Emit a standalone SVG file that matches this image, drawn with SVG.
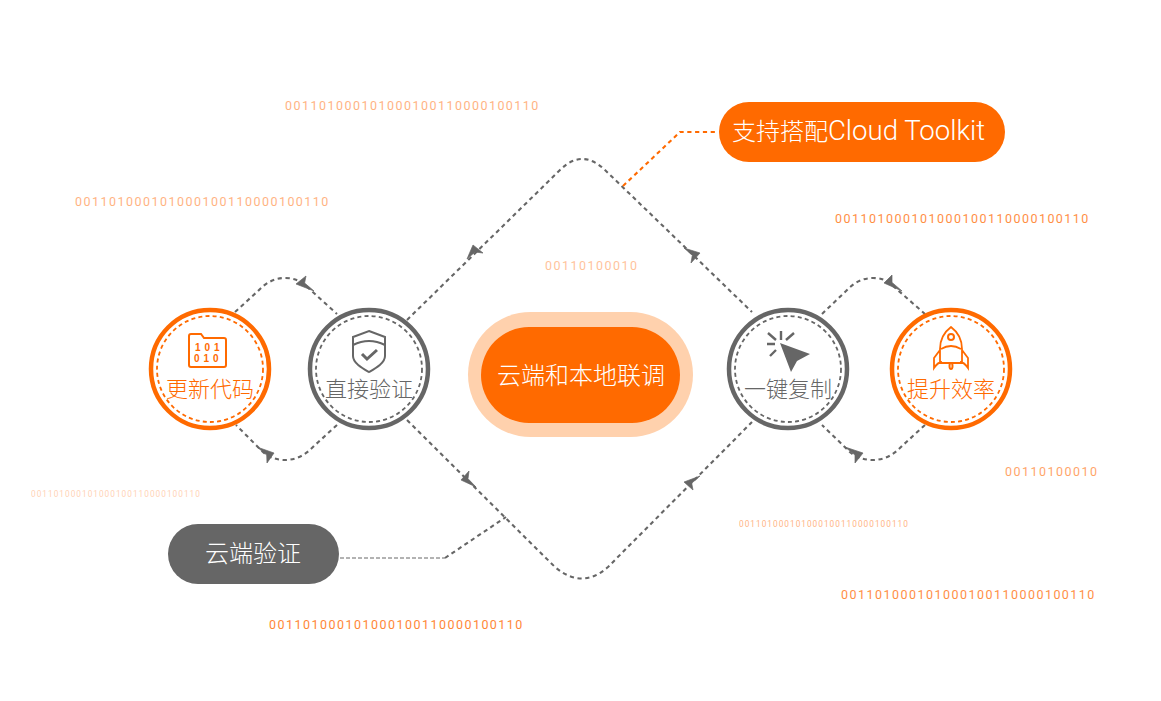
<svg xmlns="http://www.w3.org/2000/svg" width="1161" height="701" viewBox="0 0 1161 701">
<style>
text{font-family:"Liberation Sans","Noto Sans CJK SC",sans-serif;font-weight:300}
.bin{font-family:Roboto,"Liberation Sans",sans-serif;fill:#ff6a00;letter-spacing:1.47px;font-size:12.5px;font-weight:400}
.s{font-size:8.3px;letter-spacing:1px}
.c{fill:#fff;stroke-width:4.5}
.d{fill:none;stroke-width:1.8;stroke-dasharray:4 3.2}
.o{stroke:#ff6a00}.g{stroke:#666}
.lo{fill:#ff6a00;font-size:22px;text-anchor:middle}
.lg{fill:#666;font-size:22px;text-anchor:middle}
.w{fill:#fff;text-anchor:middle}
.con{fill:none;stroke:#666;stroke-width:2.1;stroke-dasharray:4.2 3.6}
.ic{fill:none;stroke-width:2}
.ah{fill:#666;stroke:#666;stroke-width:.7;stroke-linejoin:round}
.lat{font-family:Roboto,"Liberation Sans",sans-serif;font-weight:300}
</style>
<g id="binary">
<text class="bin" x="285" y="110" opacity=".5">001101000101000100110000100110</text>
<text class="bin" x="75" y="206" opacity=".5">001101000101000100110000100110</text>
<text class="bin" x="835" y="223" opacity=".75">001101000101000100110000100110</text>
<text class="bin" x="545" y="270" opacity=".4">00110100010</text>
<text class="bin" x="1005" y="476" opacity=".6">00110100010</text>
<text class="bin s" x="31" y="497" opacity=".3">001101000101000100110000100110</text>
<text class="bin s" x="739" y="527" opacity=".5">001101000101000100110000100110</text>
<text class="bin" x="841" y="599" opacity=".75">001101000101000100110000100110</text>
<text class="bin" x="269" y="629" opacity=".8">001101000101000100110000100110</text>
</g>
<g id="connectors">
<path class="con" d="M235 312L258 291Q270 278 285 278Q297 278 305 285L337 314"/>
<path class="con" d="M337 425L314 446Q301 460 285 460Q273 460 264 453L236 425"/>
<path class="con" d="M822 314L846 291Q858 278 873 278Q885 278 892 285L925 314"/>
<path class="con" d="M925 425L902 446Q889 460 873 460Q860 460 851 453L822 425"/>
<path class="con" d="M407 320L560 170Q582 148 605 170L752 312"/>
<path class="con" d="M407 420L555 567Q582 590 608 567L752 422"/>
<path d="M623 186L680 132H718" fill="none" stroke="#ff6a00" stroke-width="2.1" stroke-dasharray="4.2 3.6"/>
<path d="M340 558H445" fill="none" stroke="#666" stroke-width="1" stroke-dasharray="4 2"/>
<path class="con" d="M445 558L506 517"/>
<path class="ah" d="M314 291L296 284L306 276L304.6 283Z"/>
<path class="ah" d="M257 447L274 453L267 463L266.7 455Z"/>
<path class="ah" d="M902 291L884 283L892 275L892 282.4Z"/>
<path class="ah" d="M845 447L863 453L855 463L855 455Z"/>
<path class="ah" d="M467 259L473 245L483 253L475 252Z"/>
<path class="ah" d="M684 248L700 253L691 263L692.3 255.2Z"/>
<path class="ah" d="M476 487L461 480L469 471L468 478.7Z"/>
<path class="ah" d="M700 476L684 482L693 490L691.7 483.2Z"/>
</g>
<g id="n1"><circle class="c o" cx="210" cy="369" r="59"/><circle class="d o" cx="210" cy="369" r="53"/>
<path class="ic o" d="M191 334h10l3 4h20a2 2 0 0 1 2 2v25a2 2 0 0 1-2 2h-33a2 2 0 0 1-2-2v-29a2 2 0 0 1 2-2z"/>
<text x="195" y="351" font-size="10" fill="#ff6a00" style="font-weight:700" letter-spacing="4">101</text>
<text x="194" y="362" font-size="10" fill="#ff6a00" style="font-weight:700" letter-spacing="4">010</text>
<text class="lo" x="210" y="397">更新代码</text></g>
<g id="n2"><circle class="c g" cx="369" cy="369" r="59"/><circle class="d g" cx="369" cy="369" r="53"/>
<path class="ic g" stroke-width="2.6" d="M369 331l16 6v19c0 7-9 12-16 16c-7-4-16-9-16-16v-19z"/><path class="ic g" d="M353 345q16-8 32 0"/><path class="ic g" style="stroke-width:3" d="M362 354l5 5l10-9"/>
<text class="lg" x="369" y="397">直接验证</text></g>
<g id="n3"><circle class="c g" cx="788" cy="369" r="59"/><circle class="d g" cx="788" cy="369" r="53"/>
<path d="M780 343L810 354L797 361L791 372Z" fill="#666"/><path class="ic g" style="stroke-width:2.4" d="M768 333l8 7M781 331v9M794 333l-8 7M767 344h8M770 356l6-6"/>
<text class="lg" x="788" y="397">一键复制</text></g>
<g id="n4"><circle class="c o" cx="951" cy="369" r="59"/><circle class="d o" cx="951" cy="369" r="53"/>
<path class="ic o" style="stroke-width:1.8" d="M951 327c-8 6-11 14-11 22v14h22v-14c0-8-3-16-11-22zM941 349q10-6 20 0M940 350l-6 8v10q4-6 8-6M962 350l6 8v10q-4-6-8-6"/><circle class="ic o" cx="951" cy="337" r="3"/><ellipse class="ic o" cx="951" cy="366" rx="1.5" ry="3"/>
<text class="lo" x="951" y="397">提升效率</text></g>
<g id="center"><rect x="468" y="312" width="225" height="125" rx="62.5" fill="#ffd1ad"/><rect x="481" y="327" width="199" height="96" rx="48" fill="#ff6a00"/><text class="w" x="581" y="384" font-size="24">云端和本地联调</text></g>
<g id="top"><rect x="719" y="102" width="286" height="60" rx="30" fill="#ff6a00"/><text class="w" x="858.5" y="140" font-size="24">支持搭配<tspan class="lat" font-size="27.6">Cloud Toolkit</tspan></text></g>
<g id="cloud"><rect x="168" y="524" width="171" height="60" rx="30" fill="#666"/><text class="w" x="253" y="562" font-size="24">云端验证</text></g>
</svg>
